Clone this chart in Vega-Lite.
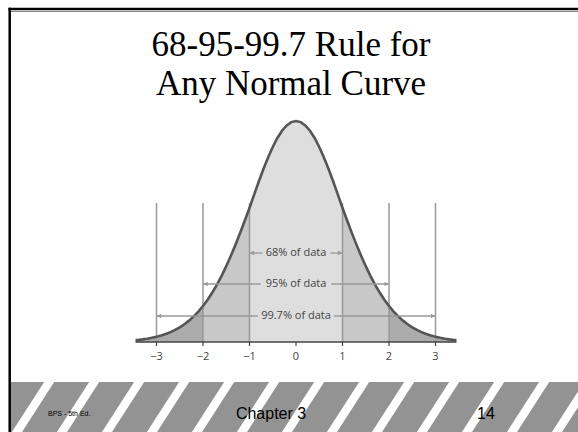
{
  "$schema": "https://vega.github.io/schema/vega-lite/v6.json",
  "width": 578,
  "height": 432,
  "padding": 0,
  "autosize": {"type": "none"},
  "background": "white",
  "config": {"view": {"stroke": null}, "axis": {"disable": true}, "legend": {"disable": true}},
  "data": {"values": [{}]},
  "datasets": {
    "curve": [
      {"x": -3.45, "d": 0.00333}, {"x": -3.4, "d": 0.00376}, {"x": -3.3, "d": 0.00476}, {"x": -3.2, "d": 0.006},
      {"x": -3.1, "d": 0.00752}, {"x": -3.0, "d": 0.00939}, {"x": -2.9, "d": 0.01167}, {"x": -2.8, "d": 0.01443},
      {"x": -2.7, "d": 0.01776}, {"x": -2.6, "d": 0.02172}, {"x": -2.5, "d": 0.02645}, {"x": -2.4, "d": 0.03202},
      {"x": -2.3, "d": 0.03856}, {"x": -2.2, "d": 0.04615}, {"x": -2.1, "d": 0.05492}, {"x": -2.0, "d": 0.06498},
      {"x": -1.9, "d": 0.0764}, {"x": -1.8, "d": 0.08926}, {"x": -1.7, "d": 0.10361}, {"x": -1.6, "d": 0.11949},
      {"x": -1.5, "d": 0.13685}, {"x": -1.4, "d": 0.15565}, {"x": -1.3, "d": 0.17577}, {"x": -1.2, "d": 0.19703},
      {"x": -1.1, "d": 0.2192}, {"x": -1.0, "d": 0.24197}, {"x": -0.9, "d": 0.26609}, {"x": -0.8, "d": 0.28969},
      {"x": -0.7, "d": 0.31225}, {"x": -0.6, "d": 0.33322}, {"x": -0.5, "d": 0.35207}, {"x": -0.4, "d": 0.36827},
      {"x": -0.3, "d": 0.38139}, {"x": -0.2, "d": 0.39104}, {"x": -0.1, "d": 0.39695}, {"x": 0, "d": 0.39894},
      {"x": 0.1, "d": 0.39695}, {"x": 0.2, "d": 0.39104}, {"x": 0.3, "d": 0.38139}, {"x": 0.4, "d": 0.36827},
      {"x": 0.5, "d": 0.35207}, {"x": 0.6, "d": 0.33322}, {"x": 0.7, "d": 0.31225}, {"x": 0.8, "d": 0.28969},
      {"x": 0.9, "d": 0.26609}, {"x": 1.0, "d": 0.24197}, {"x": 1.1, "d": 0.2192}, {"x": 1.2, "d": 0.19703},
      {"x": 1.3, "d": 0.17577}, {"x": 1.4, "d": 0.15565}, {"x": 1.5, "d": 0.13685}, {"x": 1.6, "d": 0.11949},
      {"x": 1.7, "d": 0.10361}, {"x": 1.8, "d": 0.08926}, {"x": 1.9, "d": 0.0764}, {"x": 2.0, "d": 0.06498},
      {"x": 2.1, "d": 0.05492}, {"x": 2.2, "d": 0.04615}, {"x": 2.3, "d": 0.03856}, {"x": 2.4, "d": 0.03202},
      {"x": 2.5, "d": 0.02645}, {"x": 2.6, "d": 0.02172}, {"x": 2.7, "d": 0.01776}, {"x": 2.8, "d": 0.01443},
      {"x": 2.9, "d": 0.01167}, {"x": 3.0, "d": 0.00939}, {"x": 3.1, "d": 0.00752}, {"x": 3.2, "d": 0.006},
      {"x": 3.3, "d": 0.00476}, {"x": 3.4, "d": 0.00376}, {"x": 3.45, "d": 0.00333}
    ],
    "ticks": [
      {"v": -3, "label": "−3"}, {"v": -2, "label": "−2"}, {"v": -1, "label": "−1"}, {"v": 0, "label": "0"},
      {"v": 1, "label": "1"}, {"v": 2, "label": "2"}, {"v": 3, "label": "3"}
    ],
    "spans": [
      {"label": "68% of data", "lo": -1, "hi": 1, "gapLo": -0.72, "gapHi": 0.74, "y": 0.1606},
      {"label": "95% of data", "lo": -2, "hi": 2, "gapLo": -0.76, "gapHi": 0.76, "y": 0.1047},
      {"label": "99.7% of data", "lo": -3, "hi": 3, "gapLo": -0.82, "gapHi": 0.82, "y": 0.0469}
    ],
    "stripes": [
      {"xt": -5.0998, "xb": -6.0839}, {"xt": -4.132, "xb": -5.1161}, {"xt": -3.1643, "xb": -4.1484},
      {"xt": -2.1966, "xb": -3.1806}, {"xt": -1.2288, "xb": -2.2129}, {"xt": -0.2611, "xb": -1.2452},
      {"xt": 0.7067, "xb": -0.2774}, {"xt": 1.6744, "xb": 0.6903}, {"xt": 2.6422, "xb": 1.6581},
      {"xt": 3.6099, "xb": 2.6258}, {"xt": 4.5776, "xb": 3.5935}, {"xt": 5.5454, "xb": 4.5613},
      {"xt": 6.5131, "xb": 5.529}
    ]
  },
  "layer": [
    {
      "data": {"name": "curve"},
      "mark": {"type": "area", "color": "#ababab"},
      "encoding": {
        "x": {"field": "x", "type": "quantitative", "scale": {"domain": [-6.3656, 6.0645], "nice": false, "zero": false}},
        "y": {"field": "d", "type": "quantitative", "scale": {"domain": [-0.16245, 0.61733], "nice": false, "zero": false}},
        "y2": {"datum": 0}
      }
    },
    {
      "data": {"name": "curve"},
      "transform": [{"filter": {"field": "x", "range": [-2, 2]}}],
      "mark": {"type": "area", "color": "#c8c8c8"},
      "encoding": {
        "x": {"field": "x", "type": "quantitative", "scale": {"domain": [-6.3656, 6.0645], "nice": false, "zero": false}},
        "y": {"field": "d", "type": "quantitative", "scale": {"domain": [-0.16245, 0.61733], "nice": false, "zero": false}},
        "y2": {"datum": 0}
      }
    },
    {
      "data": {"name": "curve"},
      "transform": [{"filter": {"field": "x", "range": [-1, 1]}}],
      "mark": {"type": "area", "color": "#dedede"},
      "encoding": {
        "x": {"field": "x", "type": "quantitative", "scale": {"domain": [-6.3656, 6.0645], "nice": false, "zero": false}},
        "y": {"field": "d", "type": "quantitative", "scale": {"domain": [-0.16245, 0.61733], "nice": false, "zero": false}},
        "y2": {"datum": 0}
      }
    },
    {
      "data": {"name": "ticks"},
      "transform": [{"filter": "datum.v != 0"}],
      "mark": {"type": "rule", "color": "#999999", "strokeWidth": 1.5},
      "encoding": {
        "x": {"field": "v", "type": "quantitative", "scale": {"domain": [-6.3656, 6.0645], "nice": false, "zero": false}},
        "y": {"datum": 0, "type": "quantitative", "scale": {"domain": [-0.16245, 0.61733], "nice": false, "zero": false}},
        "y2": {"datum": 0.2509}
      }
    },
    {
      "data": {"name": "curve"},
      "mark": {"type": "line", "color": "#555555", "strokeWidth": 2.6},
      "encoding": {
        "x": {"field": "x", "type": "quantitative", "scale": {"domain": [-6.3656, 6.0645], "nice": false, "zero": false}},
        "y": {"field": "d", "type": "quantitative", "scale": {"domain": [-0.16245, 0.61733], "nice": false, "zero": false}}
      }
    },
    {
      "mark": {"type": "rule", "color": "#444444", "strokeWidth": 1.6},
      "encoding": {
        "x": {"datum": -3.45, "type": "quantitative", "scale": {"domain": [-6.3656, 6.0645], "nice": false, "zero": false}},
        "x2": {"datum": 3.45},
        "y": {"datum": 0, "type": "quantitative", "scale": {"domain": [-0.16245, 0.61733], "nice": false, "zero": false}}
      }
    },
    {
      "data": {"name": "ticks"},
      "mark": {"type": "rule", "color": "#444444", "strokeWidth": 1.2},
      "encoding": {
        "x": {"field": "v", "type": "quantitative", "scale": {"domain": [-6.3656, 6.0645], "nice": false, "zero": false}},
        "y": {"datum": 0, "type": "quantitative", "scale": {"domain": [-0.16245, 0.61733], "nice": false, "zero": false}},
        "y2": {"datum": -0.0072}
      }
    },
    {
      "data": {"name": "ticks"},
      "mark": {"type": "text", "font": "Open Sans", "fontSize": 11, "color": "#444444", "baseline": "middle", "align": "center"},
      "encoding": {
        "x": {"field": "v", "type": "quantitative", "scale": {"domain": [-6.3656, 6.0645], "nice": false, "zero": false}},
        "y": {"datum": -0.0271, "type": "quantitative", "scale": {"domain": [-0.16245, 0.61733], "nice": false, "zero": false}},
        "text": {"field": "label"}
      }
    },
    {
      "data": {"name": "spans"},
      "mark": {"type": "rule", "color": "#999999", "strokeWidth": 1.3},
      "encoding": {
        "x": {"field": "lo", "type": "quantitative", "scale": {"domain": [-6.3656, 6.0645], "nice": false, "zero": false}},
        "x2": {"field": "gapLo"},
        "y": {"field": "y", "type": "quantitative", "scale": {"domain": [-0.16245, 0.61733], "nice": false, "zero": false}}
      }
    },
    {
      "data": {"name": "spans"},
      "mark": {"type": "rule", "color": "#999999", "strokeWidth": 1.3},
      "encoding": {
        "x": {"field": "gapHi", "type": "quantitative", "scale": {"domain": [-6.3656, 6.0645], "nice": false, "zero": false}},
        "x2": {"field": "hi"},
        "y": {"field": "y", "type": "quantitative", "scale": {"domain": [-0.16245, 0.61733], "nice": false, "zero": false}}
      }
    },
    {
      "data": {"name": "spans"},
      "mark": {"type": "point", "shape": "triangle-left", "filled": true, "size": 22, "color": "#999999", "opacity": 1, "xOffset": 2.5},
      "encoding": {
        "x": {"field": "lo", "type": "quantitative", "scale": {"domain": [-6.3656, 6.0645], "nice": false, "zero": false}},
        "y": {"field": "y", "type": "quantitative", "scale": {"domain": [-0.16245, 0.61733], "nice": false, "zero": false}}
      }
    },
    {
      "data": {"name": "spans"},
      "mark": {"type": "point", "shape": "triangle-right", "filled": true, "size": 22, "color": "#999999", "opacity": 1, "xOffset": -2.5},
      "encoding": {
        "x": {"field": "hi", "type": "quantitative", "scale": {"domain": [-6.3656, 6.0645], "nice": false, "zero": false}},
        "y": {"field": "y", "type": "quantitative", "scale": {"domain": [-0.16245, 0.61733], "nice": false, "zero": false}}
      }
    },
    {
      "data": {"name": "spans"},
      "mark": {"type": "text", "font": "Open Sans", "fontSize": 11, "color": "#444444", "baseline": "middle", "align": "center"},
      "encoding": {
        "x": {"datum": 0, "type": "quantitative", "scale": {"domain": [-6.3656, 6.0645], "nice": false, "zero": false}},
        "y": {"field": "y", "type": "quantitative", "scale": {"domain": [-0.16245, 0.61733], "nice": false, "zero": false}},
        "text": {"field": "label"}
      }
    },
    {
      "mark": {"type": "text", "text": ["68-95-99.7 Rule for", "Any Normal Curve"], "font": "Liberation Serif", "fontSize": 35, "lineHeight": 39, "color": "black", "baseline": "alphabetic", "align": "center"},
      "encoding": {
        "x": {"datum": -0.1075, "type": "quantitative", "scale": {"domain": [-6.3656, 6.0645], "nice": false, "zero": false}},
        "y": {"datum": 0.51625, "type": "quantitative", "scale": {"domain": [-0.16245, 0.61733], "nice": false, "zero": false}}
      }
    },
    {
      "mark": {"type": "rect", "color": "#939393"},
      "encoding": {
        "x": {"datum": -6.1398, "type": "quantitative", "scale": {"domain": [-6.3656, 6.0645], "nice": false, "zero": false}},
        "x2": {"datum": 6.0645},
        "y": {"datum": -0.0722, "type": "quantitative", "scale": {"domain": [-0.16245, 0.61733], "nice": false, "zero": false}},
        "y2": {"datum": -0.16245}
      }
    },
    {
      "data": {"name": "stripes"},
      "mark": {"type": "rule", "color": "white", "strokeWidth": 8.5, "strokeCap": "butt"},
      "encoding": {
        "x": {"field": "xt", "type": "quantitative", "scale": {"domain": [-6.3656, 6.0645], "nice": false, "zero": false}},
        "x2": {"field": "xb"},
        "y": {"datum": -0.04513, "type": "quantitative", "scale": {"domain": [-0.16245, 0.61733], "nice": false, "zero": false}},
        "y2": {"datum": -0.17329}
      }
    },
    {
      "mark": {"type": "text", "text": "BPS - 5th Ed.", "font": "Liberation Sans", "fontSize": 7, "color": "black", "baseline": "alphabetic", "align": "left"},
      "encoding": {
        "x": {"datum": -5.3333, "type": "quantitative", "scale": {"domain": [-6.3656, 6.0645], "nice": false, "zero": false}},
        "y": {"datum": -0.13357, "type": "quantitative", "scale": {"domain": [-0.16245, 0.61733], "nice": false, "zero": false}}
      }
    },
    {
      "mark": {"type": "text", "text": "Chapter 3", "font": "Liberation Sans", "fontSize": 16, "color": "black", "baseline": "alphabetic", "align": "center"},
      "encoding": {
        "x": {"datum": -0.5376, "type": "quantitative", "scale": {"domain": [-6.3656, 6.0645], "nice": false, "zero": false}},
        "y": {"datum": -0.13899, "type": "quantitative", "scale": {"domain": [-0.16245, 0.61733], "nice": false, "zero": false}}
      }
    },
    {
      "mark": {"type": "text", "text": "14", "font": "Liberation Sans", "fontSize": 16, "color": "black", "baseline": "alphabetic", "align": "left"},
      "encoding": {
        "x": {"datum": 3.8925, "type": "quantitative", "scale": {"domain": [-6.3656, 6.0645], "nice": false, "zero": false}},
        "y": {"datum": -0.13899, "type": "quantitative", "scale": {"domain": [-0.16245, 0.61733], "nice": false, "zero": false}}
      }
    },
    {
      "mark": {"type": "rule", "color": "#888888", "strokeWidth": 1},
      "encoding": {
        "x": {"datum": -6.15, "type": "quantitative", "scale": {"domain": [-6.3656, 6.0645], "nice": false, "zero": false}},
        "x2": {"datum": 6.0645},
        "y": {"datum": 0.59657, "type": "quantitative", "scale": {"domain": [-0.16245, 0.61733], "nice": false, "zero": false}}
      }
    },
    {
      "mark": {"type": "rule", "color": "black", "strokeWidth": 2.5},
      "encoding": {
        "x": {"datum": -6.184, "type": "quantitative", "scale": {"domain": [-6.3656, 6.0645], "nice": false, "zero": false}},
        "x2": {"datum": 6.0645},
        "y": {"datum": 0.60108, "type": "quantitative", "scale": {"domain": [-0.16245, 0.61733], "nice": false, "zero": false}}
      }
    },
    {
      "mark": {"type": "rule", "color": "black", "strokeWidth": 2.5},
      "encoding": {
        "x": {"datum": -6.157, "type": "quantitative", "scale": {"domain": [-6.3656, 6.0645], "nice": false, "zero": false}},
        "y": {"datum": 0.60333, "type": "quantitative", "scale": {"domain": [-0.16245, 0.61733], "nice": false, "zero": false}},
        "y2": {"datum": -0.16245}
      }
    }
  ]
}
